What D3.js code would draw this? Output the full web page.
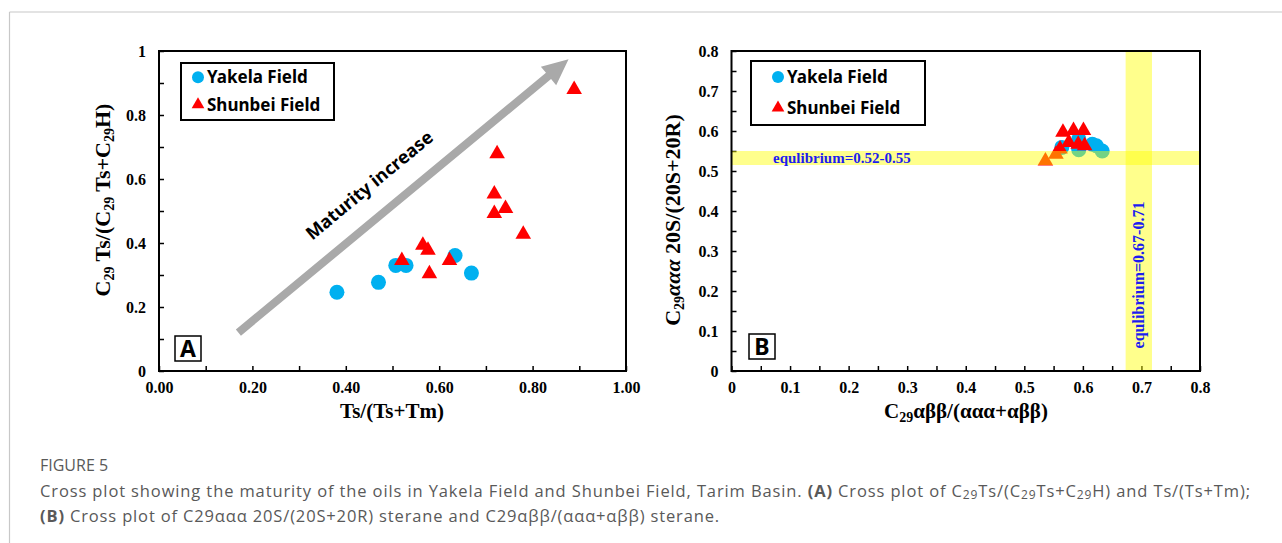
<!DOCTYPE html>
<html>
<head>
<meta charset="utf-8">
<script src="https://cdn.jsdelivr.net/npm/d3@7"></script>
<style>
  body { margin: 0; background: #fff; }
  svg { display: block; }
  .tick text { font-family: "Liberation Serif", "Times New Roman", serif; font-weight: bold; font-size: 16px; fill: #000; }
  .tick line { stroke: #000; stroke-width: 1.5; }
</style>
</head>
<body>
<svg id="fig" width="1282" height="543"></svg>
<script>
// panel A : C29Ts/(C29Ts+C29H) vs Ts/(Ts+Tm)
var yakelaA_x = [0.381, 0.470, 0.507, 0.529, 0.634, 0.669];
var yakelaA_y = [0.246, 0.277, 0.330, 0.330, 0.361, 0.306];
var shunbeiA_x = [0.520, 0.565, 0.576, 0.579, 0.622, 0.718, 0.718, 0.724, 0.742, 0.780, 0.889];
var shunbeiA_y = [0.345, 0.393, 0.377, 0.304, 0.345, 0.553, 0.492, 0.679, 0.508, 0.427, 0.880];

// panel B : C29aaa 20S/(20S+20R) vs C29abb/(aaa+abb)
var yakelaB_x = [0.564, 0.593, 0.593, 0.616, 0.623, 0.633, 0.593];
var yakelaB_y = [0.559, 0.559, 0.580, 0.567, 0.563, 0.550, 0.553];
var shunbeiB_x = [0.566, 0.584, 0.601, 0.576, 0.592, 0.603, 0.561, 0.554, 0.536];
var shunbeiB_y = [0.597, 0.601, 0.601, 0.571, 0.567, 0.563, 0.555, 0.542, 0.525];

// equilibrium ranges in panel B
var eqY = [0.515, 0.550];
var eqX = [0.673, 0.718];

// arrow in panel A (data coords)
var arrowFrom = [0.17, 0.12];
var arrowTo = [0.877, 0.974];

var ticksA_x = d3.range(0, 1.001, 0.1);
var labelsA_x = ["0.00", "0.20", "0.40", "0.60", "0.80", "1.00"];
var ticksA_y = d3.range(0, 1.001, 0.1);
var labelsA_y = ["0", "0.2", "0.4", "0.6", "0.8", "1"];
var ticksB = d3.range(0, 0.8001, 0.05);
var labelsB = ["0", "0.1", "0.2", "0.3", "0.4", "0.5", "0.6", "0.7", "0.8"];

var BLUE = "#00b0f0", RED = "#ff0000";
var svg = d3.select("#fig");

// outer figure frame lines
svg.append("line").attr("x1", 9.5).attr("x2", 1282).attr("y1", 12).attr("y2", 12)
  .attr("stroke", "#c8c8c8").attr("stroke-width", 1.2);
svg.append("line").attr("x1", 9.5).attr("x2", 9.5).attr("y1", 12).attr("y2", 543)
  .attr("stroke", "#c8c8c8").attr("stroke-width", 1.2);

var serif = "'Liberation Serif', 'Times New Roman', serif";
var sans = "'Noto Sans', 'DejaVu Sans', sans-serif";

function zip(xs, ys) { return xs.map(function(v, i) { return [v, ys[i]]; }); }

function majorFmt(labels, step) {
  return function(d) {
    var k = d / step;
    if (Math.abs(k - Math.round(k)) < 1e-6) return labels[Math.round(k)];
    return "";
  };
}

function drawAxes(g, x, y, xt, xf, yt, yf) {
  var ax = g.append("g").attr("transform", "translate(0," + y.range()[0] + ")")
    .call(d3.axisBottom(x).tickValues(xt).tickFormat(xf).tickSize(-5).tickPadding(11));
  ax.select(".domain").remove();
  var ay = g.append("g").attr("transform", "translate(" + x.range()[0] + ",0)")
    .call(d3.axisLeft(y).tickValues(yt).tickFormat(yf).tickSize(-5).tickPadding(13));
  ay.select(".domain").remove();
  ax.selectAll(".tick text").attr("dy", "0.71em");
  ay.selectAll(".tick text").attr("dy", "0.35em");
}

function drawFrame(g, x, y) {
  g.append("rect")
    .attr("x", x.range()[0]).attr("y", y.range()[1])
    .attr("width", x.range()[1] - x.range()[0]).attr("height", y.range()[0] - y.range()[1])
    .attr("fill", "none").attr("stroke", "#000").attr("stroke-width", 2);
}

function drawPoints(g, x, y, circ, tri) {
  g.selectAll("circle.yak").data(circ).enter().append("circle")
    .attr("class", "yak")
    .attr("cx", function(d) { return x(d[0]); })
    .attr("cy", function(d) { return y(d[1]); })
    .attr("r", 7.5).attr("fill", BLUE);
  g.selectAll("path.shb").data(tri).enter().append("path")
    .attr("class", "shb")
    .attr("d", d3.symbol().type(d3.symbolTriangle).size(105))
    .attr("transform", function(d) { return "translate(" + x(d[0]) + "," + y(d[1]) + ")"; })
    .attr("fill", RED);
}

function drawLegend(g, x0, y0, w, h, mx) {
  g.append("rect").attr("x", x0).attr("y", y0).attr("width", w).attr("height", h)
    .attr("fill", "#fff").attr("stroke", "#000").attr("stroke-width", 2);
  var rows = [{name: "Yakela Field", dy: 0.25}, {name: "Shunbei Field", dy: 0.73}];
  rows.forEach(function(r, i) {
    var cy = y0 + h * r.dy;
    if (i == 0) {
      g.append("circle").attr("cx", x0 + mx).attr("cy", cy).attr("r", 6).attr("fill", BLUE);
    } else {
      g.append("path").attr("d", d3.symbol().type(d3.symbolTriangle).size(70))
        .attr("transform", "translate(" + (x0 + mx) + "," + cy + ")").attr("fill", RED);
    }
    g.append("text").attr("x", x0 + mx + 9).attr("y", cy).attr("dy", "0.36em")
      .attr("font-family", sans).attr("font-weight", "bold").attr("font-size", 17)
      .text(r.name);
  });
}

function panelTag(g, x0, y0, t) {
  g.append("rect").attr("x", x0).attr("y", y0).attr("width", 26).attr("height", 25)
    .attr("fill", "#fff").attr("stroke", "#000").attr("stroke-width", 1.5);
  g.append("text").attr("x", x0 + 13).attr("y", y0 + 21).attr("text-anchor", "middle")
    .attr("font-family", sans).attr("font-weight", "bold").attr("font-size", 23)
    .text(t);
}

// ---------- panel A ----------
var xA = d3.scaleLinear().domain([0, 1]).range([159, 626]);
var yA = d3.scaleLinear().domain([0, 1]).range([371, 51]);
var gA = svg.append("g");

drawAxes(gA, xA, yA, ticksA_x, majorFmt(labelsA_x, 0.2), ticksA_y, majorFmt(labelsA_y, 0.2));

// arrow
(function() {
  var x1 = xA(arrowFrom[0]), y1 = yA(arrowFrom[1]);
  var x2 = xA(arrowTo[0]), y2 = yA(arrowTo[1]);
  var ang = Math.atan2(y2 - y1, x2 - x1);
  var len = Math.hypot(x2 - x1, y2 - y1);
  var hw = 4, headL = 26, headW = 12;
  var pts = [[0, -hw], [len - headL, -hw], [len - headL, -headW], [len, 0],
             [len - headL, headW], [len - headL, hw], [0, hw]];
  gA.append("polygon")
    .attr("points", pts.map(function(p) { return p.join(","); }).join(" "))
    .attr("transform", "translate(" + x1 + "," + y1 + ") rotate(" + (ang * 180 / Math.PI) + ")")
    .attr("fill", "#a9a9a9");
  var mx = x1 + (x2 - x1) * 0.43, my = y1 + (y2 - y1) * 0.43;
  gA.append("text")
    .attr("transform", "translate(" + (mx - 7) + "," + (my - 25) + ") rotate(" + (ang * 180 / Math.PI) + ")")
    .attr("text-anchor", "middle")
    .attr("font-family", sans).attr("font-weight", "bold").attr("font-size", 18)
    .text("Maturity increase");
})();

drawPoints(gA, xA, yA, zip(yakelaA_x, yakelaA_y), zip(shunbeiA_x, shunbeiA_y));
drawFrame(gA, xA, yA);
drawLegend(gA, 181, 63, 153, 57, 17);
panelTag(gA, 175, 336, "A");

gA.append("text").attr("x", 392).attr("y", 418).attr("text-anchor", "middle")
  .attr("font-family", serif).attr("font-weight", "bold").attr("font-size", 21)
  .text("Ts/(Ts+Tm)");

var yla = gA.append("text").attr("transform", "translate(110,200) rotate(-90)")
  .attr("text-anchor", "middle")
  .attr("font-family", serif).attr("font-weight", "bold").attr("font-size", 22);
[["C", 0], ["29", 1], [" Ts/(C", 0], ["29", 1], [" Ts+C", 0], ["29", 1], ["H)", 0]].forEach(function(p) {
  yla.append("tspan").text(p[0])
    .attr("font-size", p[1] ? 14 : 22)
    .attr("baseline-shift", p[1] ? "-25%" : null);
});

// ---------- panel B ----------
var xB = d3.scaleLinear().domain([0, 0.8]).range([731.5, 1200]);
var yB = d3.scaleLinear().domain([0, 0.8]).range([371, 51]);
var gB = svg.append("g");

drawAxes(gB, xB, yB, ticksB, majorFmt(labelsB, 0.1), ticksB, majorFmt(labelsB, 0.1));
drawPoints(gB, xB, yB, zip(yakelaB_x, yakelaB_y), zip(shunbeiB_x, shunbeiB_y));

// equilibrium bands (translucent, drawn over points)
gB.append("rect")
  .attr("x", xB(0)).attr("width", xB(0.8) - xB(0))
  .attr("y", yB(eqY[1])).attr("height", yB(eqY[0]) - yB(eqY[1]))
  .attr("fill", "#ffff00").attr("fill-opacity", 0.45);
gB.append("rect")
  .attr("x", xB(eqX[0])).attr("width", xB(eqX[1]) - xB(eqX[0]))
  .attr("y", yB(0.8)).attr("height", yB(0) - yB(0.8))
  .attr("fill", "#ffff00").attr("fill-opacity", 0.45);

gB.append("text").attr("x", 773).attr("y", yB((eqY[0] + eqY[1]) / 2)).attr("dy", "0.35em")
  .attr("font-family", serif).attr("font-weight", "bold").attr("font-size", 15)
  .attr("fill", "#1c1cf0").text("equlibrium=0.52-0.55");
gB.append("text")
  .attr("transform", "translate(" + ((xB(eqX[0]) + xB(eqX[1])) / 2) + ",275) rotate(-90)")
  .attr("text-anchor", "middle").attr("dy", "0.35em")
  .attr("font-family", serif).attr("font-weight", "bold").attr("font-size", 16)
  .attr("fill", "#1c1cf0").text("equlibrium=0.67-0.71");

drawFrame(gB, xB, yB);
drawLegend(gB, 751, 61, 174, 64, 27);
panelTag(gB, 749, 334, "B");

var xlb = gB.append("text").attr("x", 966).attr("y", 418).attr("text-anchor", "middle")
  .attr("font-family", serif).attr("font-weight", "bold").attr("font-size", 21);
[["C", 0], ["29", 1], ["αββ/(ααα+αββ)", 0]].forEach(function(p) {
  xlb.append("tspan").text(p[0])
    .attr("font-size", p[1] ? 14 : 21)
    .attr("baseline-shift", p[1] ? "-25%" : null);
});

var ylb = gB.append("text").attr("transform", "translate(680,220) rotate(-90)")
  .attr("text-anchor", "middle")
  .attr("font-family", serif).attr("font-weight", "bold").attr("font-size", 22);
[["C", 0, 0], ["29", 1, 0], ["ααα", 0, 1], [" 20S/(20S+20R)", 0, 0]].forEach(function(p) {
  ylb.append("tspan").text(p[0])
    .attr("font-size", p[1] ? 14 : 22)
    .attr("font-style", p[2] ? "italic" : null)
    .attr("baseline-shift", p[1] ? "-25%" : null);
});

// ---------- caption ----------
var capFont = "'Open Sans', 'Noto Sans', sans-serif";
var capColor = "#595959";
svg.append("text").attr("x", 40).attr("y", 471)
  .attr("font-family", capFont).attr("font-size", 16).attr("fill", capColor)
  .text("FIGURE 5");

var cap1 = svg.append("text").attr("x", 40).attr("y", 497)
  .attr("font-family", capFont).attr("font-size", 16.5).attr("letter-spacing", 0.88).attr("fill", capColor);
[["Cross plot showing the maturity of the oils in Yakela Field and Shunbei Field, Tarim Basin. ", 0, 0],
 ["(A)", 1, 0], [" Cross plot of C", 0, 0], ["29", 0, 1], ["Ts/(C", 0, 0], ["29", 0, 1], ["Ts+C", 0, 0],
 ["29", 0, 1], ["H) and Ts/(Ts+Tm);", 0, 0]].forEach(function(p) {
  cap1.append("tspan").text(p[0])
    .attr("font-weight", p[1] ? "bold" : null)
    .attr("font-size", p[2] ? 12 : null)
    .attr("baseline-shift", p[2] ? "-20%" : null);
});
var cap2 = svg.append("text").attr("x", 40).attr("y", 522)
  .attr("font-family", capFont).attr("font-size", 16.5).attr("letter-spacing", 0.85).attr("fill", capColor);
[["(B)", 1], [" Cross plot of C29ααα 20S/(20S+20R) sterane and C29αββ/(ααα+αββ) sterane.", 0]].forEach(function(p) {
  cap2.append("tspan").text(p[0]).attr("font-weight", p[1] ? "bold" : null);
});
</script>
</body>
</html>
